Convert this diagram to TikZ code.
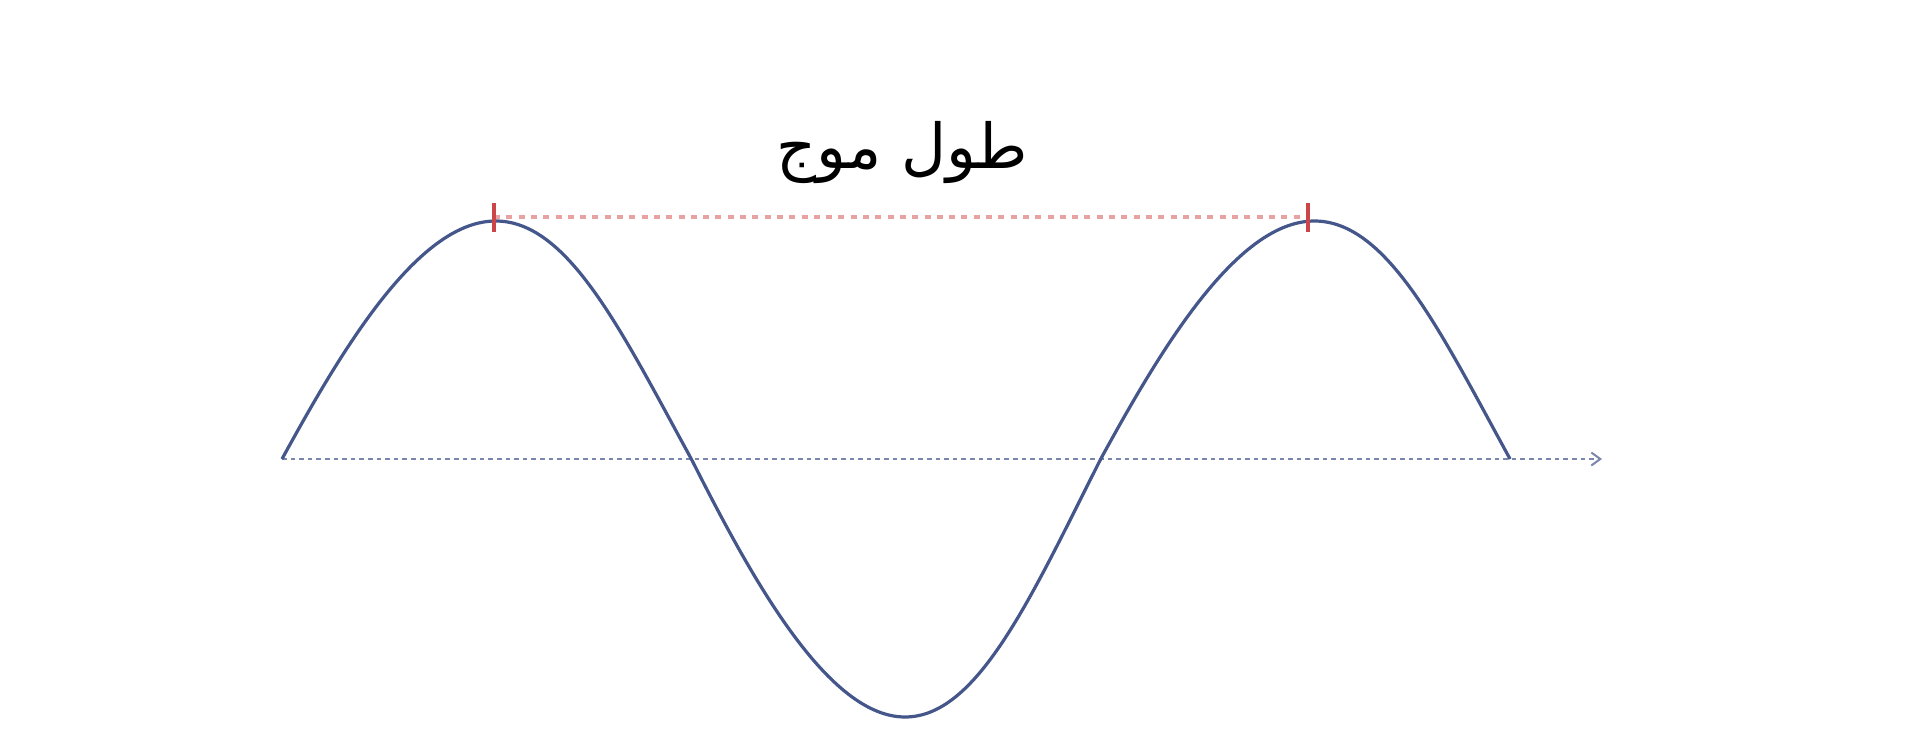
\documentclass[tikz,border=0pt]{standalone}
\usepackage{fontspec}
\newfontfamily\arabicfont[Script=Arabic]{DejaVu Sans}
\TeXXeTstate=1
\usetikzlibrary{arrows.meta}
\definecolor{wavecol}{HTML}{44568A}
\definecolor{axiscol}{HTML}{7A86AC}
\definecolor{tickcol}{HTML}{CC4549}
\definecolor{spancol}{HTML}{E9A2A2}

\begin{document}
\begin{tikzpicture}[x=0.5pt,y=0.5pt,
  wave/.style={color=wavecol,line width=1.6pt},
  axisline/.style={color=axiscol,line width=1pt,dash pattern=on 2.3pt off 2pt,-{Straight Barb[length=4.5pt,width=6.5pt]}},
  peaktick/.style={color=tickcol,line width=1.8pt},
  spanline/.style={color=spancol,line width=2pt,dash pattern=on 3pt off 3.15pt},
  spanlabel/.style={font=\arabicfont\fontsize{31}{36}\selectfont,inner sep=0pt}]
\useasboundingbox[fill=white] (0,0) rectangle (1920,746);
% Drawing axis
\coordinate (origin) at (282,287);
\coordinate (axisend) at (1602,287);
\draw[axisline] (origin) -- (axisend);
% Done with axis; drawing wave
\draw[wave,variable=\t] plot[domain=0:540,samples=240,smooth]
  ({282+(\t+4*sin(\t)*sin(\t))/360*818.7},{287+sin(\t)*(sin(\t)>0 ? 238 : 258)});
% Done with wave; drawing wavelength span
\coordinate (peakA) at (494,529);
\coordinate (peakB) at (1308,529);
\draw[spanline] (peakA) -- (peakB);
\draw[peaktick] ([yshift=-7.25pt]peakA) -- ([yshift=7.25pt]peakA);
\draw[peaktick] ([yshift=-7.25pt]peakB) -- ([yshift=7.25pt]peakB);
% Line 1: label
\node[spanlabel] (wavelength) at (902,593) {\beginR طول موج\endR};
% Done with label
\end{tikzpicture}
\end{document}
